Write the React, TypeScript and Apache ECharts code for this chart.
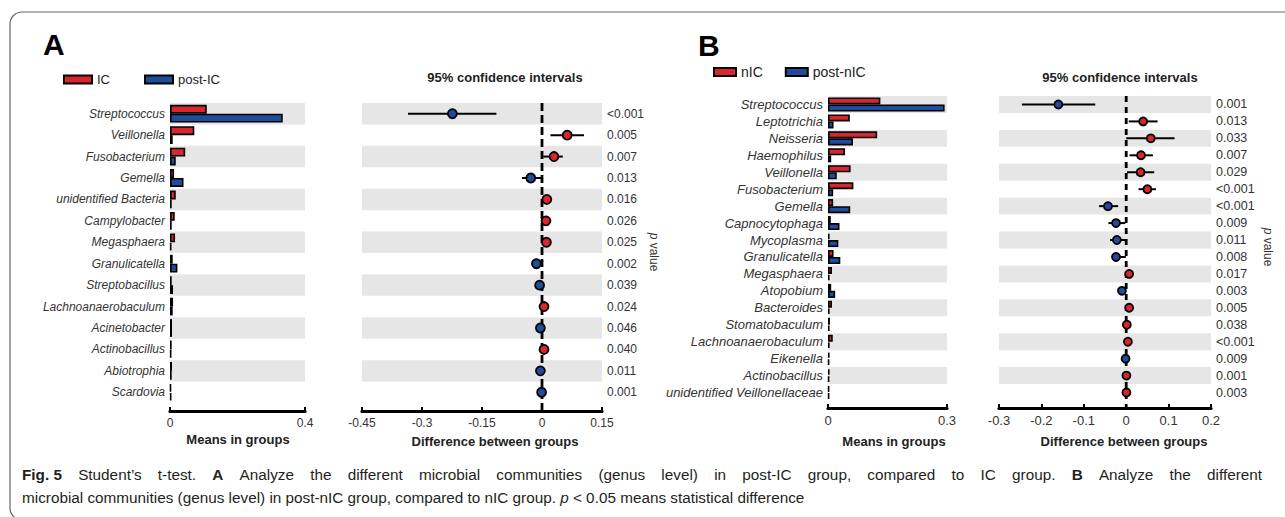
import React, { useEffect, useRef } from "react";
import * as echarts from "echarts";

// ---------- Panel A data ----------
const generaA = [
  "Streptococcus", "Veillonella", "Fusobacterium", "Gemella", "unidentified Bacteria",
  "Campylobacter", "Megasphaera", "Granulicatella", "Streptobacillus", "Lachnoanaerobaculum",
  "Acinetobacter", "Actinobacillus", "Abiotrophia", "Scardovia",
];
const icA = [0.109, 0.072, 0.045, 0.012, 0.017, 0.014, 0.015, 0.008, 0.005, 0.009, 0.006, 0.005, 0.006, 0.003];
const postIcA = [0.334, 0.008, 0.017, 0.040, 0.005, 0.005, 0.004, 0.022, 0.009, 0.008, 0.006, 0.004, 0.005, 0.004];
const diffA = [-0.224, 0.063, 0.030, -0.028, 0.012, 0.010, 0.011, -0.014, -0.006, 0.005, -0.004, 0.005, -0.004, -0.001];
const ciLowA = [-0.335, 0.021, 0.003, -0.050, 0.003, 0.002, 0.002, -0.024, -0.010, 0.002, -0.007, 0.002, -0.007, -0.003];
const ciHighA = [-0.114, 0.105, 0.052, -0.001, 0.020, 0.017, 0.019, -0.004, -0.002, 0.008, -0.001, 0.008, -0.001, 0.001];
const pA = ["<0.001", "0.005", "0.007", "0.013", "0.016", "0.026", "0.025", "0.002", "0.039", "0.024", "0.046", "0.040", "0.011", "0.001"];

// ---------- Panel B data ----------
const generaB = [
  "Streptococcus", "Leptotrichia", "Neisseria", "Haemophilus", "Veillonella", "Fusobacterium",
  "Gemella", "Capnocytophaga", "Mycoplasma", "Granulicatella", "Megasphaera", "Atopobium",
  "Bacteroides", "Stomatobaculum", "Lachnoanaerobaculum", "Eikenella", "Actinobacillus",
  "unidentified Veillonellaceae",
];
const nicB = [0.132, 0.055, 0.124, 0.043, 0.057, 0.064, 0.013, 0.007, 0.004, 0.014, 0.010, 0.008, 0.010, 0.005, 0.012, 0.004, 0.004, 0.003];
const postNicB = [0.294, 0.014, 0.063, 0.008, 0.022, 0.013, 0.056, 0.029, 0.026, 0.031, 0.004, 0.018, 0.004, 0.004, 0.004, 0.003, 0.003, 0.003];
const diffB = [-0.160, 0.040, 0.058, 0.035, 0.034, 0.050, -0.043, -0.024, -0.022, -0.024, 0.007, -0.010, 0.007, 0.0015, 0.004, -0.0015, 0.0005, 0.0005];
const ciLowB = [-0.246, 0.006, 0.000, 0.008, 0.002, 0.029, -0.064, -0.042, -0.038, -0.034, 0.002, -0.014, 0.002, 0.000, 0.001, -0.003, -0.001, -0.001];
const ciHighB = [-0.073, 0.074, 0.114, 0.063, 0.066, 0.070, -0.019, -0.002, -0.002, -0.001, 0.011, 0.000, 0.011, 0.003, 0.007, 0.000, 0.002, 0.002];
const pB = ["0.001", "0.013", "0.033", "0.007", "0.029", "<0.001", "<0.001", "0.009", "0.011", "0.008", "0.017", "0.003", "0.005", "0.038", "<0.001", "0.009", "0.001", "0.003"];

// ---------- Caption ----------
const captionLine1: [string, boolean][] = [
  ["Fig. 5", true], ["Student\u2019s", false], ["t-test.", false], ["A", true], ["Analyze", false],
  ["the", false], ["different", false], ["microbial", false], ["communities", false], ["(genus", false],
  ["level)", false], ["in", false], ["post-IC", false], ["group,", false], ["compared", false],
  ["to", false], ["IC", false], ["group.", false], ["B", true], ["Analyze", false], ["the", false],
  ["different", false],
];
const captionLine2 = "microbial communities (genus level) in post-nIC group, compared to nIC group. {i|p} < 0.05 means statistical difference";

const RED = "#d8262c";
const BLUE = "#1f4d9c";
const BAND = "#e6e6e6";
const FONT = "'Liberation Sans', Arial, Helvetica, sans-serif";
const CAPFONT = "'Liberation Sans', Arial, sans-serif";
const CAPSIZE = 15.3;
const CAPCOLOR = "#231f20";

function bandSeries(axis: number, n: number) {
  const data: number[][] = [];
  for (let i = 0; i < n; i += 2) data.push([0, i]);
  return {
    type: "custom",
    xAxisIndex: axis,
    yAxisIndex: axis,
    silent: true,
    z: 0,
    data,
    encode: { x: 0, y: 1 },
    renderItem: (params: any, api: any) => {
      const cs = params.coordSys;
      const c = api.coord([api.value(0), api.value(1)]);
      const h = api.size([0, 1])[1];
      return {
        type: "rect",
        shape: { x: cs.x, y: c[1] - h / 2, width: cs.width, height: h },
        style: { fill: BAND },
      };
    },
  };
}

function zeroLineSeries(axis: number, extra: number, dash: number[]) {
  return {
    type: "custom",
    xAxisIndex: axis,
    yAxisIndex: axis,
    silent: true,
    z: 2,
    data: [[0, 0]],
    encode: { x: 0, y: 1 },
    renderItem: (params: any, api: any) => {
      const cs = params.coordSys;
      const p = api.coord([0, 0]);
      return {
        type: "line",
        shape: { x1: p[0], y1: cs.y, x2: p[0], y2: cs.y + cs.height + extra },
        style: { stroke: "#000", lineWidth: 2.8, lineDash: dash },
      };
    },
  };
}

function errorSeries(axis: number, lo: number[], hi: number[]) {
  return {
    type: "custom",
    xAxisIndex: axis,
    yAxisIndex: axis,
    silent: true,
    z: 3,
    data: lo.map((l, i) => [l, hi[i], i]),
    encode: { x: [0, 1], y: 2 },
    renderItem: (params: any, api: any) => {
      const a = api.coord([api.value(0), api.value(2)]);
      const b = api.coord([api.value(1), api.value(2)]);
      return {
        type: "line",
        shape: { x1: a[0], y1: a[1], x2: b[0], y2: b[1] },
        style: { stroke: "#000", lineWidth: 2 },
      };
    },
  };
}

function pointSeries(axis: number, diff: number[], size: number) {
  return {
    type: "scatter",
    xAxisIndex: axis,
    yAxisIndex: axis,
    z: 4,
    symbolSize: size,
    data: diff.map((d, i) => ({
      value: [d, i],
      itemStyle: { color: d >= 0 ? RED : BLUE },
    })),
    itemStyle: { borderColor: "#000", borderWidth: 1.8, opacity: 1 },
  };
}

function barSeries(axis: number, name: string, data: number[], color: string) {
  return {
    type: "bar",
    name,
    xAxisIndex: axis,
    yAxisIndex: axis,
    z: 3,
    data,
    barGap: "0%",
    barCategoryGap: "17%",
    itemStyle: { color, borderColor: "#000", borderWidth: 1.6 },
  };
}

function valueAxis(grid: number, min: number, max: number, interval: number, offset: number, fontSize: number) {
  return {
    type: "value",
    gridIndex: grid,
    min,
    max,
    interval,
    position: "bottom",
    offset,
    axisLine: { show: true, onZero: false, lineStyle: { color: "#000", width: 3.2 } },
    axisTick: { show: true, inside: true, length: 4, lineStyle: { color: "#000", width: 2 } },
    axisLabel: { color: "#333", fontSize, fontFamily: FONT, margin: 6 },
    splitLine: { show: false },
  };
}

function catAxisLeft(grid: number, data: string[], fontSize: number) {
  return {
    type: "category",
    gridIndex: grid,
    data,
    inverse: true,
    axisLine: { show: false },
    axisTick: { show: false },
    axisLabel: { color: "#333", fontSize, fontStyle: "italic", fontFamily: FONT, margin: 5 },
    splitLine: { show: false },
  };
}

function catAxisRight(grid: number, data: string[], p: string[], fontSize: number) {
  return {
    type: "category",
    gridIndex: grid,
    data,
    inverse: true,
    position: "right",
    axisLine: { show: false },
    axisTick: { show: false },
    axisLabel: {
      color: "#333",
      fontSize,
      fontFamily: FONT,
      margin: 5,
      formatter: (_v: string, i: number) => p[i],
    },
    splitLine: { show: false },
  };
}

function txt(x: number, y: number, text: string, opts: any = {}) {
  return {
    type: "text",
    x,
    y,
    rotation: opts.rotation || 0,
    style: {
      text,
      fill: opts.fill || "#222",
      fontSize: opts.size || 12,
      fontWeight: opts.weight || "normal",
      fontFamily: opts.family || FONT,
      align: opts.align || "center",
      verticalAlign: "middle",
      rich: opts.rich,
    },
  };
}

function justifiedLine(words: [string, boolean][], x0: number, x1: number, y: number) {
  const canvas = document.createElement("canvas");
  const ctx = canvas.getContext("2d");
  const widths = words.map(([w, b]) => {
    if (!ctx) return w.length * CAPSIZE * 0.5;
    ctx.font = `${b ? "bold " : ""}${CAPSIZE}px ${CAPFONT}`;
    return ctx.measureText(w).width;
  });
  const total = widths.reduce((s, v) => s + v, 0);
  const gap = (x1 - x0 - total) / (words.length - 1);
  const out: any[] = [];
  let x = x0;
  words.forEach(([w, b], i) => {
    out.push(txt(x, y, w, { size: CAPSIZE, family: CAPFONT, weight: b ? "bold" : "normal", align: "left", fill: CAPCOLOR }));
    x += widths[i] + gap;
  });
  return out;
}

export default function App() {
  const ref = useRef<HTMLDivElement>(null);
  useEffect(() => {
    if (!ref.current) return;
    const chart = echarts.init(ref.current, null, { renderer: "svg" });
    const capRich = {
      i: { fontStyle: "italic", fontFamily: CAPFONT, fontSize: CAPSIZE, color: CAPCOLOR },
    };
    const pRich = { i: { fontStyle: "italic", fontFamily: FONT, fontSize: 12, color: "#333" } };
    chart.setOption({
      animation: false,
      backgroundColor: "#fff",
      grid: [
        { left: 170, top: 103, width: 135, height: 300, containLabel: false },
        { left: 362, top: 103, width: 240, height: 300, containLabel: false },
        { left: 828, top: 96, width: 119, height: 305, containLabel: false },
        { left: 999, top: 96, width: 212, height: 305, containLabel: false },
      ],
      xAxis: [
        valueAxis(0, 0, 0.4, 0.4, 8, 12),
        valueAxis(1, -0.45, 0.15, 0.15, 8, 12),
        valueAxis(2, 0, 0.3, 0.3, 7, 13),
        valueAxis(3, -0.3, 0.2, 0.1, 7, 13),
      ],
      yAxis: [
        catAxisLeft(0, generaA, 12),
        catAxisRight(1, generaA, pA, 12),
        catAxisLeft(2, generaB, 13),
        catAxisRight(3, generaB, pB, 12.5),
      ],
      legend: [
        {
          data: ["IC", "post-IC"],
          left: 63,
          top: 73,
          padding: 0,
          icon: "rect",
          itemWidth: 28,
          itemHeight: 8,
          itemGap: 34,
          textStyle: { fontSize: 13, color: "#222", fontFamily: FONT },
          selectedMode: false,
        },
        {
          data: ["nIC", "post-nIC"],
          left: 713,
          top: 65,
          padding: 0,
          icon: "rect",
          itemWidth: 22,
          itemHeight: 8,
          itemGap: 22,
          textStyle: { fontSize: 14, color: "#222", fontFamily: FONT },
          selectedMode: false,
        },
      ],
      series: [
        bandSeries(0, generaA.length),
        barSeries(0, "IC", icA, RED),
        barSeries(0, "post-IC", postIcA, BLUE),
        bandSeries(1, generaA.length),
        zeroLineSeries(1, 8, [8, 4]),
        errorSeries(1, ciLowA, ciHighA),
        pointSeries(1, diffA, 9),
        bandSeries(2, generaB.length),
        barSeries(2, "nIC", nicB, RED),
        barSeries(2, "post-nIC", postNicB, BLUE),
        bandSeries(3, generaB.length),
        zeroLineSeries(3, 7, [6, 5]),
        errorSeries(3, ciLowB, ciHighB),
        pointSeries(3, diffB, 8),
      ],
      graphic: [
        {
          type: "rect",
          shape: { x: 10, y: 12, width: 1300, height: 508, r: 12 },
          style: { fill: "none", stroke: "#666", lineWidth: 1.2 },
          silent: true,
          z: -10,
        },
        txt(43, 44, "A", { size: 30, weight: "bold", align: "left", fill: "#000" }),
        txt(698, 45, "B", { size: 30, weight: "bold", align: "left", fill: "#000" }),
        txt(505, 77, "95% confidence intervals", { size: 13, weight: "bold" }),
        txt(1120, 77, "95% confidence intervals", { size: 13, weight: "bold" }),
        txt(238, 439, "Means in groups", { size: 13, weight: "bold" }),
        txt(894, 441, "Means in groups", { size: 13, weight: "bold" }),
        txt(495, 441, "Difference between groups", { size: 13, weight: "bold" }),
        txt(1124, 441, "Difference between groups", { size: 13, weight: "bold" }),
        txt(654, 252, "{i|p} value", { size: 12, fill: "#333", rotation: -Math.PI / 2, rich: pRich }),
        txt(1268, 247, "{i|p} value", { size: 12, fill: "#333", rotation: -Math.PI / 2, rich: pRich }),
        ...justifiedLine(captionLine1, 22, 1262, 474),
        txt(22, 497, captionLine2, { size: CAPSIZE, family: CAPFONT, align: "left", fill: CAPCOLOR, rich: capRich }),
      ],
    });
    return () => chart.dispose();
  }, []);
  return (
    <div
      ref={ref}
      style={{ position: "fixed", left: 0, top: 0, width: 1285, height: 517, background: "#fff" }}
    />
  );
}
